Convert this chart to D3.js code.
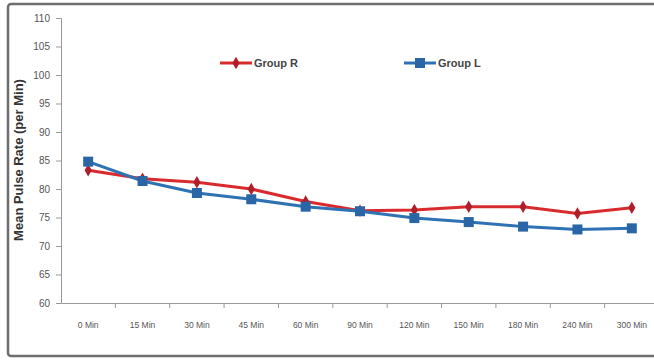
<!DOCTYPE html>
<html>
<head>
<meta charset="utf-8">
<script src="https://cdn.jsdelivr.net/npm/d3@7/dist/d3.min.js"></script>
<style>
  body { margin: 0; background: #fff; }
  svg { display: block; font-family: "Liberation Sans", Arial, sans-serif; }
</style>
</head>
<body>
<svg></svg>
<script>
// Data
let categories = ["0 Min", "15 Min", "30 Min", "45 Min", "60 Min", "90 Min", "120 Min", "150 Min", "180 Min", "240 Min", "300 Min"];
let groupR = [83.3, 81.8, 81.2, 80.0, 77.8, 76.2, 76.3, 76.9, 76.9, 75.7, 76.7];
let groupL = [84.8, 81.4, 79.3, 78.2, 76.9, 76.1, 74.9, 74.2, 73.4, 72.9, 73.1];
let yTicks = [60, 65, 70, 75, 80, 85, 90, 95, 100, 105, 110];

// Chart variables
let width = 654;
let height = 360;
let plotLeft = 61;
let plotRight = 659;
let plotTop = 18;
let plotBottom = 303;

let svg = d3.select("svg").attr("width", width).attr("height", height);

// Outer frame
svg.append("rect")
  .attr("x", 8).attr("y", 4)
  .attr("width", 660).attr("height", 352)
  .attr("rx", 3)
  .attr("fill", "#fff")
  .attr("stroke", "#6e6e6e")
  .attr("stroke-width", 2.5);

// Scales
let xScale = d3.scaleBand().domain(categories).range([plotLeft, plotRight]);
let yScale = d3.scaleLinear().domain([60, 110]).range([plotBottom, plotTop]);
let cx = (c) => xScale(c) + xScale.bandwidth() / 2;

// Axes
let yAxis = d3.axisLeft(yScale).tickValues(yTicks).tickSize(5).tickPadding(6);
let gy = svg.append("g")
  .attr("transform", "translate(" + plotLeft + ",0)")
  .call(yAxis);
gy.select(".domain").attr("stroke", "#999");
gy.selectAll(".tick line").attr("stroke", "#999");
gy.selectAll(".tick text").attr("fill", "#555").style("font-size", "10px");

let xAxis = d3.axisBottom(xScale).tickSize(0).tickPadding(19);
let gx = svg.append("g")
  .attr("transform", "translate(0," + plotBottom + ")")
  .call(xAxis);
gx.select(".domain").attr("stroke", "#999");
gx.selectAll(".tick text").attr("fill", "#555").style("font-size", "8.5px");

// tick marks between categories
gx.selectAll(".sep")
  .data(categories.slice(1))
  .enter()
  .append("line")
  .attr("x1", (c) => xScale(c))
  .attr("x2", (c) => xScale(c))
  .attr("y1", 0).attr("y2", 5)
  .attr("stroke", "#999");

// Y label
svg.append("text")
  .attr("transform", "translate(23,160) rotate(-90)")
  .attr("text-anchor", "middle")
  .attr("fill", "#333")
  .style("font-size", "13px")
  .style("font-weight", "bold")
  .text("Mean Pulse Rate (per Min)");

// Lines
let line = (vals) => d3.line()
  .x((d, i) => cx(categories[i]))
  .y((d) => yScale(d))(vals);

let red = "#d92b2e";
let blue = "#2f72b3";

svg.append("path").attr("d", line(groupR))
  .attr("fill", "none").attr("stroke", red).attr("stroke-width", 3);
svg.append("path").attr("d", line(groupL))
  .attr("fill", "none").attr("stroke", blue).attr("stroke-width", 3);

let diamond = d3.symbol().type(d3.symbolDiamond).size(45);

svg.selectAll(".mr")
  .data(groupR)
  .enter()
  .append("path")
  .attr("d", diamond)
  .attr("transform", (d, i) => "translate(" + cx(categories[i]) + "," + yScale(d) + ")")
  .attr("fill", "#b01e2a");

svg.selectAll(".ml")
  .data(groupL)
  .enter()
  .append("rect")
  .attr("x", (d, i) => cx(categories[i]) - 5)
  .attr("y", (d) => yScale(d) - 5)
  .attr("width", 10).attr("height", 10)
  .attr("fill", "#2a66a6");

// Legend
let legend = [
  { name: "Group R", color: red, x: 220 },
  { name: "Group L", color: blue, x: 404 }
];
let ly = 63;
legend.forEach((l) => {
  svg.append("line")
    .attr("x1", l.x).attr("x2", l.x + 32)
    .attr("y1", ly).attr("y2", ly)
    .attr("stroke", l.color).attr("stroke-width", 3);
  if (l.name === "Group R") {
    svg.append("path").attr("d", diamond)
      .attr("transform", "translate(" + (l.x + 16) + "," + ly + ")")
      .attr("fill", "#b01e2a");
  } else {
    svg.append("rect")
      .attr("x", l.x + 11).attr("y", ly - 5)
      .attr("width", 10).attr("height", 10)
      .attr("fill", "#2a66a6");
  }
  svg.append("text")
    .attr("x", l.x + 34).attr("y", ly + 4)
    .attr("fill", "#444")
    .style("font-size", "11px")
    .style("font-weight", "bold")
    .text(l.name);
});
</script>
</body>
</html>
